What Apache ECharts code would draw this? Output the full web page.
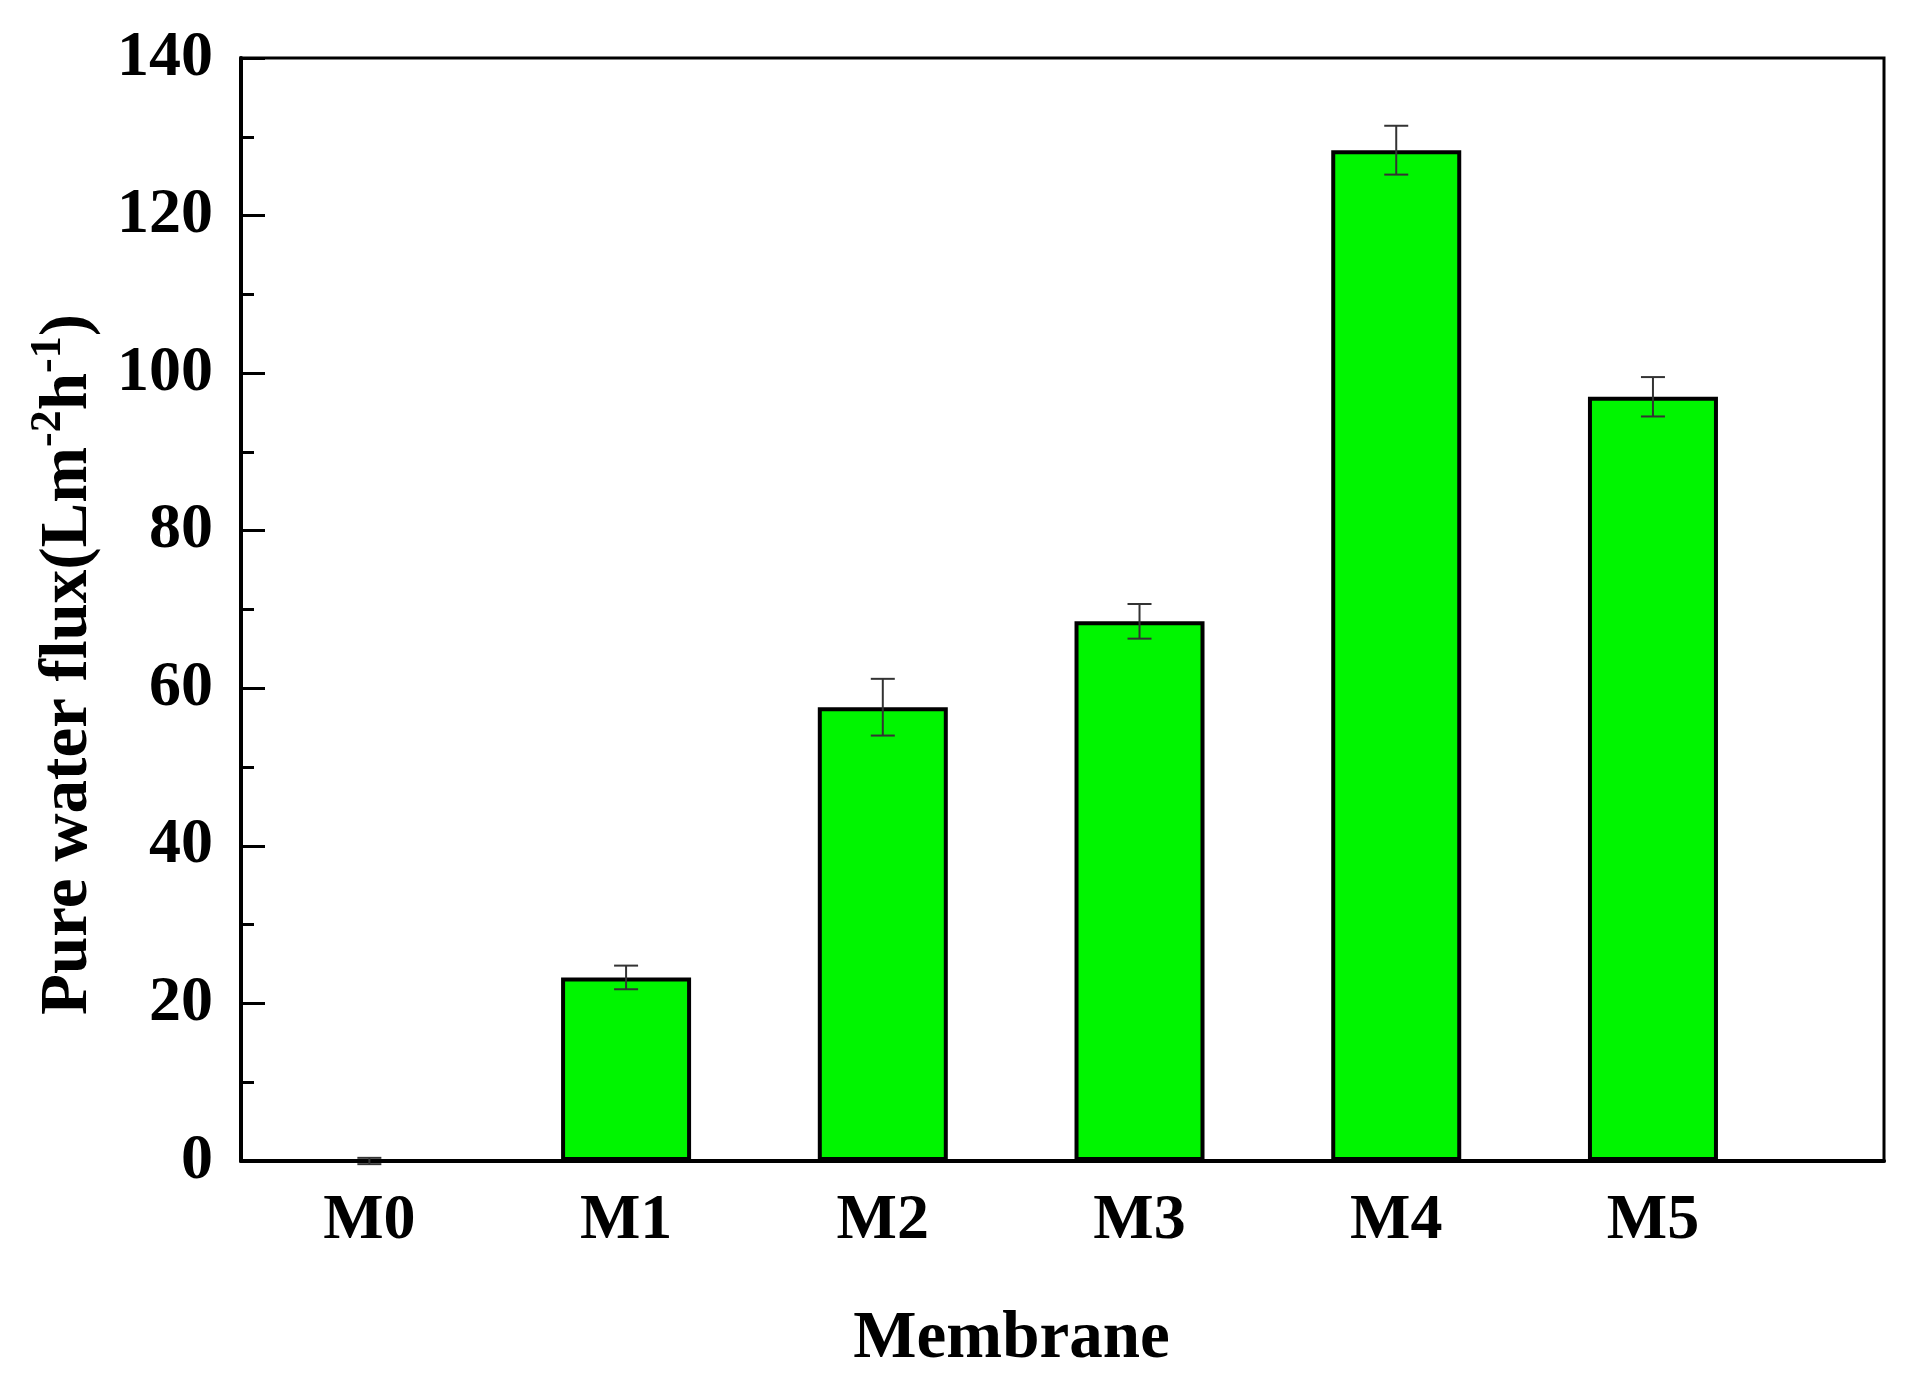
<!DOCTYPE html>
<html>
<head>
<meta charset="utf-8">
<title>Pure water flux</title>
<script src="https://cdn.jsdelivr.net/npm/echarts@6/dist/echarts.min.js"></script>
<style>
  html, body { margin: 0; padding: 0; background: #fff; }
  #chart { width: 1921px; height: 1386px; }
</style>
</head>
<body>
<div id="chart"></div>
<script>
const membranes = ["M0", "M1", "M2", "M3", "M4", "M5"];
const fluxValues = [0, 23.3, 57.6, 68.5, 128.3, 97.0];
const fluxErrors = [0.4, 1.5, 3.6, 2.2, 3.1, 2.5];
const yTicks = [0, 20, 40, 60, 80, 100, 120, 140];

const font = "Liberation Serif";
const chart = echarts.init(document.getElementById("chart"));

const barData = membranes.map((name, i) => [i, fluxValues[i]]);
const errorData = membranes.map((name, i) => [i, fluxValues[i] - fluxErrors[i], fluxValues[i] + fluxErrors[i]]);

chart.setOption({
  animation: false,
  grid: {
    left: 241, right: 37, top: 58, bottom: 225,
    show: true, borderColor: "#000", borderWidth: 3, backgroundColor: "transparent",
  },
  xAxis: {
    type: "value",
    min: -0.5,
    max: 5.9,
    axisLine: { show: true, onZero: false, lineStyle: { color: "#000", width: 4 } },
    axisTick: { show: false },
    splitLine: { show: false },
    axisLabel: {
      customValues: membranes.map((m, i) => i),
      formatter: (v) => membranes[Math.round(v)] ?? "",
      margin: 28,
      fontFamily: font, fontWeight: "bold", fontSize: 64, color: "#000",
    },
    name: "Membrane",
    nameLocation: "middle",
    nameGap: 145,
    nameMoveOverlap: false,
    nameTextStyle: {
      fontFamily: font, fontWeight: "bold", fontSize: 67, color: "#000",
      padding: [0, 102, 0, 0],
    },
  },
  yAxis: {
    type: "value",
    min: yTicks[0],
    max: yTicks[yTicks.length - 1],
    interval: 20,
    axisLine: { show: true, onZero: false, lineStyle: { color: "#000", width: 4 } },
    axisTick: { show: true, inside: true, length: 24, lineStyle: { color: "#000", width: 3 } },
    minorTick: { show: true, splitNumber: 2, length: 13, lineStyle: { color: "#000", width: 3 } },
    splitLine: { show: false },
    axisLabel: {
      margin: 28,
      fontFamily: font, fontWeight: "bold", fontSize: 64, color: "#000",
    },
    name: "Pure water flux(Lm{sup|-2}h{sup|-1})",
    nameLocation: "middle",
    nameGap: 130,
    nameMoveOverlap: false,
    nameTextStyle: {
      fontFamily: font, fontWeight: "bold", fontSize: 67, color: "#000",
      lineHeight: 84, verticalAlign: "bottom",
      padding: [0, 110, 0, 0],
      rich: {
        sup: { fontFamily: font, fontWeight: "bold", fontSize: 44, color: "#000", verticalAlign: "top", lineHeight: 44 },
      },
    },
  },
  series: [
    {
      type: "bar",
      data: barData,
      barWidth: 130,
      itemStyle: { color: "#00f500", borderColor: "#000", borderWidth: 4 },
      z: 2,
    },
    {
      type: "custom",
      data: errorData,
      z: 3,
      renderItem: (params, api) => {
        const x = api.value(0);
        const lo = api.coord([x, api.value(1)]);
        const hi = api.coord([x, api.value(2)]);
        const half = 12;
        const style = { stroke: "#333", lineWidth: 2 };
        return {
          type: "group",
          children: [
            { type: "line", shape: { x1: lo[0], y1: lo[1], x2: hi[0], y2: hi[1] }, style },
            { type: "line", shape: { x1: hi[0] - half, y1: hi[1], x2: hi[0] + half, y2: hi[1] }, style },
            { type: "line", shape: { x1: lo[0] - half, y1: lo[1], x2: lo[0] + half, y2: lo[1] }, style },
          ],
        };
      },
    },
  ],
});
</script>
</body>
</html>
